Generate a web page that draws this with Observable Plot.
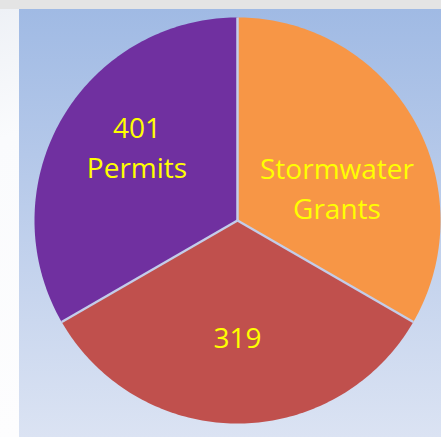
<!DOCTYPE html>
<html><head><meta charset="utf-8">
<script src="https://cdn.jsdelivr.net/npm/d3@7"></script>
<script src="https://cdn.jsdelivr.net/npm/@observablehq/plot@0.6"></script>
<style>
html,body{margin:0;padding:0;}
body{width:441px;height:437px;overflow:hidden;position:relative;background:#fbfcfe;}
#top{position:absolute;left:0;top:0;width:441px;height:9px;background:#e4e4e4;}
#left{position:absolute;left:0;top:9px;width:19px;height:428px;background:linear-gradient(160deg,#eef1f6 0%,#fafbfd 30%,#fdfdfe 100%);}
#panel{position:absolute;left:19px;top:9px;width:422px;height:428px;background:linear-gradient(to bottom,#a0bae4,#dbe3f3);}
#chart{position:absolute;left:0;top:0;}
</style></head>
<body>
<div id="top"></div><div id="left"></div><div id="panel"></div>
<div id="chart"></div>
<script>
const categories = ["Stormwater Grants", "319", "401 Permits"];
const values = [1, 1, 1];
const colors = ["#F79646", "#C0504D", "#7030A0"];
const labels = ["Stormwater\nGrants", "319", "401\nPermits"];

const arcs = d3.pie().sort(null)(values);
const slicePts = [];
arcs.forEach((a, i) => {
  slicePts.push({name: categories[i], x: 0, y: 0});
  const n = 120;
  for (let k = 0; k <= n; k++) {
    const t = a.startAngle + (a.endAngle - a.startAngle) * k / n;
    slicePts.push({name: categories[i], x: Math.sin(t), y: Math.cos(t)});
  }
  slicePts.push({name: categories[i], x: 0, y: 0});
});
const bounds = arcs.map(a => ({x2: Math.sin(a.startAngle), y2: Math.cos(a.startAngle)}));
const labelPts = arcs.map((a, i) => {
  const m = (a.startAngle + a.endAngle) / 2;
  return {label: labels[i], x: 0.6 * Math.sin(m), y: 0.6 * Math.cos(m)};
});
const txt = {x: "x", y: "y", text: "label", fill: "#FFFF00", fontSize: 28, lineHeight: 1.43,
  fontFamily: "'Open Sans', sans-serif"};

const chart = Plot.plot({
  width: 441, height: 437,
  marginLeft: 34, marginRight: 1, marginTop: 17, marginBottom: 14,
  x: {domain: [-1, 1], axis: null},
  y: {domain: [-1, 1], axis: null},
  color: {domain: categories, range: colors},
  style: {background: "transparent", overflow: "visible"},
  marks: [
    Plot.line(slicePts, {x: "x", y: "y", z: "name", fill: "name", stroke: "none"}),
    Plot.link(bounds, {x1: 0, y1: 0, x2: "x2", y2: "y2", stroke: "#c3cdea", strokeWidth: 2.5}),
    Plot.text([labelPts[0]], {...txt, dx: -6, dy: 27}),
    Plot.text([labelPts[1]], {...txt, dx: 0, dy: -7}),
    Plot.text([labelPts[2]], {...txt, dx: 5, dy: -14})
  ]
});
document.getElementById("chart").append(chart);
</script>
</body></html>
